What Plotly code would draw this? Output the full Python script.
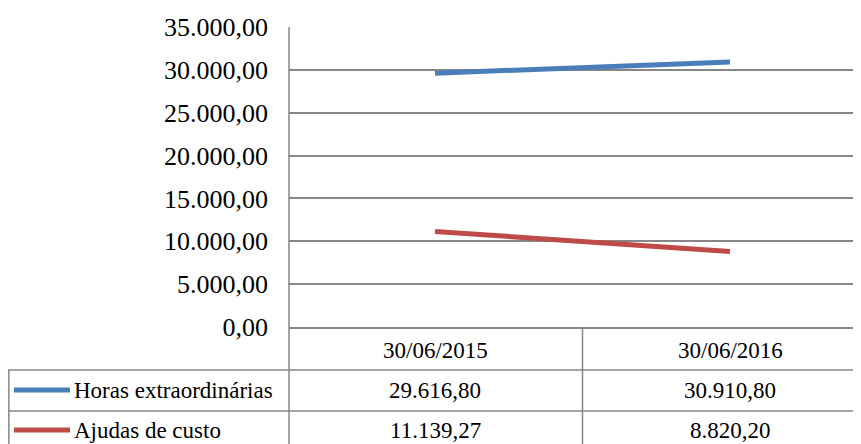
import plotly.graph_objects as go

categories = ["30/06/2015", "30/06/2016"]
series_names = ["Horas extraordinárias", "Ajudas de custo"]
horas = [29616.80, 30910.80]
ajudas = [11139.27, 8820.20]
series_values = [horas, ajudas]
series_colors = ["#4A7EBB", "#BE4B48"]
y_ticks = [0, 5000, 10000, 15000, 20000, 25000, 30000, 35000]

W, H = 861, 444
OFF = 8  # page body margin
FONT = "Times New Roman, Times, Tinos, Liberation Serif, FreeSerif, Nimbus Roman, DejaVu Serif, serif"
GRID = "#878787"


def px_x(p):
    return (p - OFF) / W


def px_y(p):
    return 1 - (p - OFF) / H


def fmt_pt(v):
    s = f"{v:,.2f}"
    return s.replace(",", "X").replace(".", ",").replace("X", ".")


fig = go.Figure()
for name, vals, col in zip(series_names, series_values, series_colors):
    fig.add_trace(go.Scatter(
        x=categories, y=vals, mode="lines", name=name,
        line=dict(color=col, width=5), showlegend=False,
    ))

plot_left, plot_top, plot_bottom = 289, 27, 327
row_lines = [370, 411]
table_left = 8

shapes = []
for yy in row_lines:
    shapes.append(dict(type="line", xref="paper", yref="paper",
                       x0=px_x(table_left), x1=1, y0=px_y(yy), y1=px_y(yy),
                       line=dict(color=GRID, width=1.5)))
shapes.append(dict(type="line", xref="paper", yref="paper",
                   x0=px_x(table_left) + 0.001, x1=px_x(table_left) + 0.001,
                   y0=px_y(row_lines[0]), y1=0,
                   line=dict(color=GRID, width=1.5)))
shapes.append(dict(type="line", xref="paper", yref="paper",
                   x0=px_x(plot_left), x1=px_x(plot_left), y0=px_y(plot_top), y1=0,
                   line=dict(color=GRID, width=1.5)))
shapes.append(dict(type="line", xref="x", yref="paper",
                   x0=0.5, x1=0.5, y0=px_y(plot_bottom), y1=0,
                   line=dict(color=GRID, width=1.5)))

tfont = dict(family=FONT, size=23, color="black")
annotations = []
header_y = px_y(350)
row_centers = [px_y(390), px_y(430)]
for i, c in enumerate(categories):
    annotations.append(dict(x=i, y=header_y, xref="x", yref="paper", text=c,
                            xanchor="center", yanchor="middle",
                            showarrow=False, font=tfont))
for r, (name, vals, col) in enumerate(zip(series_names, series_values, series_colors)):
    yc = row_centers[r]
    shapes.append(dict(type="line", xref="paper", yref="paper",
                       x0=px_x(14), x1=px_x(70), y0=yc, y1=yc,
                       line=dict(color=col, width=5)))
    annotations.append(dict(x=px_x(72), y=yc, xref="paper", yref="paper", text=name,
                            xanchor="left", yanchor="middle", showarrow=False,
                            font=tfont))
    for i, v in enumerate(vals):
        annotations.append(dict(x=i, y=yc, xref="x", yref="paper", text=fmt_pt(v),
                                xanchor="center", yanchor="middle",
                                showarrow=False, font=tfont))

x0_px, unit_px = 435, 295
r_lo = (plot_left - x0_px) / unit_px
r_hi = (W + OFF - x0_px) / unit_px

fig.update_layout(
    width=W, height=H,
    margin=dict(l=0, r=0, t=0, b=0),
    paper_bgcolor="white", plot_bgcolor="white",
    separators=",.",
    font=dict(family=FONT, size=26, color="black"),
    xaxis=dict(type="category", domain=[px_x(plot_left), 1], range=[r_lo, r_hi],
               showticklabels=False, showgrid=False, zeroline=False,
               showline=True, linecolor=GRID, linewidth=1.5, ticks=""),
    yaxis=dict(domain=[px_y(plot_bottom), px_y(plot_top)], range=[0, 35000],
               tickvals=y_ticks, tickformat=",.2f", showgrid=True, gridcolor=GRID,
               gridwidth=1.5, zeroline=False, showline=False, ticks="",
               ticklabelstandoff=20, automargin=False,
               tickfont=dict(family=FONT, size=26, color="black")),
    shapes=shapes, annotations=annotations, showlegend=False,
)

fig.write_html("out.html")
